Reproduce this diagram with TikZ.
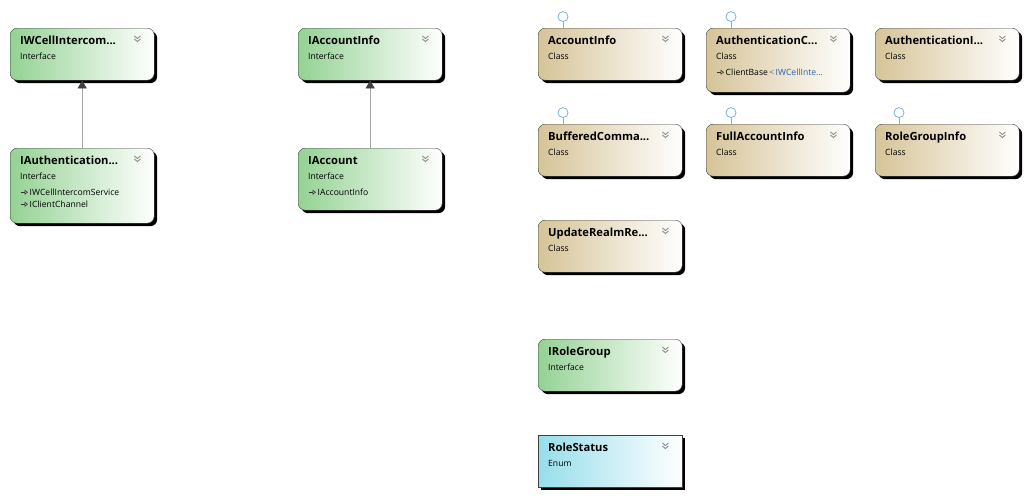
\documentclass[tikz,border=0pt]{standalone}
\usepackage{fontspec}
\setmainfont{Open Sans}
\usetikzlibrary{arrows.meta,positioning,shadows}
\definecolor{ifacegreen}{RGB}{148,210,148}
\definecolor{classtan}{RGB}{214,196,152}
\definecolor{enumcyan}{RGB}{150,222,234}
\definecolor{lollblue}{RGB}{125,175,228}
\definecolor{linkblue}{RGB}{45,95,175}
\newcommand\inh{\tikz[baseline=-0.6ex]\draw[black!80,line width=0.6pt,-{Triangle[open,length=3.5pt,width=5pt]}] (0pt,0pt) -- (7.5pt,0pt);\,}
\tikzset{
  box/.style={draw=black!75, minimum width=144pt, inner sep=0pt, anchor=north west,
    right color=white, drop shadow={shadow xshift=3pt,shadow yshift=-3pt,fill=black,opacity=1}},
  iface/.style={box, rounded corners=7pt, left color=ifacegreen, right color=white},
  cls/.style={box, rounded corners=7pt, left color=classtan, right color=white},
  enm/.style={box, left color=enumcyan, right color=white},
  ttl/.style={anchor=base west, inner sep=0pt, font=\bfseries\fontsize{11.2}{13}\selectfont},
  kind/.style={anchor=base west, inner sep=0pt, font=\fontsize{8.6}{10}\selectfont},
  lolli/.style={circle, draw=lollblue, fill=white, line width=0.8pt, minimum size=10pt, inner sep=0pt},
  stem/.style={draw=lollblue, line width=0.8pt},
  inherit/.style={draw=black!35, line width=0.8pt, -{Triangle[length=8pt,width=9pt,color=black!75]}},
  chev/.pic={\draw[black!45, line width=0.9pt] (-3,0) -- (0,2.5) -- (3,0) (-3,3) -- (0,5.5) -- (3,3);}
}
\begin{document}
\begin{tikzpicture}[x=1pt,y=-1pt]
\useasboundingbox[fill=white] (0,0) rectangle (1027,498);
% interfaces, left
\node[iface, minimum height=52pt] (iwcell) at (10,28) {};
\node[ttl] (iwcellT) at ([shift={(10,16)}]iwcell.north west) {IWCellIntercom...};
\node[kind] (iwcellK) at ([shift={(10,31)}]iwcell.north west) {Interface};
\pic at ([shift={(-17,8)}]iwcell.north east) {chev};
\node[iface, minimum height=75pt] (iauth) at (10,148) {};
\node[ttl] (iauthT) at ([shift={(10,16)}]iauth.north west) {IAuthentication...};
\node[kind] (iauthK) at ([shift={(10,31)}]iauth.north west) {Interface};
\node[kind] (iauthM1) at ([shift={(10,47)}]iauth.north west) {\inh IWCellIntercomService};
\node[kind] (iauthM2) at ([shift={(10,59)}]iauth.north west) {\inh IClientChannel};
\pic at ([shift={(-17,8)}]iauth.north east) {chev};
\draw[inherit] (iauth.north) -- (iwcell.south);
% interfaces, middle
\node[iface, minimum height=52pt] (iaccinfo) at (298,28) {};
\node[ttl] (iaccinfoT) at ([shift={(10,16)}]iaccinfo.north west) {IAccountInfo};
\node[kind] (iaccinfoK) at ([shift={(10,31)}]iaccinfo.north west) {Interface};
\pic at ([shift={(-17,8)}]iaccinfo.north east) {chev};
\node[iface, minimum height=62pt] (iaccount) at (298,148) {};
\node[ttl] (iaccountT) at ([shift={(10,16)}]iaccount.north west) {IAccount};
\node[kind] (iaccountK) at ([shift={(10,31)}]iaccount.north west) {Interface};
\node[kind] (iaccountM) at ([shift={(10,47)}]iaccount.north west) {\inh IAccountInfo};
\pic at ([shift={(-17,8)}]iaccount.north east) {chev};
\draw[inherit] (iaccount.north) -- (iaccinfo.south);
% classes, row 1
\node[cls, minimum height=52pt] (accinfo) at (538,28) {};
\node[ttl] (accinfoT) at ([shift={(10,16)}]accinfo.north west) {AccountInfo};
\node[kind] (accinfoK) at ([shift={(10,31)}]accinfo.north west) {Class};
\pic at ([shift={(-17,8)}]accinfo.north east) {chev};
\node[cls, minimum height=64pt] (authc) at (706,28) {};
\node[ttl] (authcT) at ([shift={(10,16)}]authc.north west) {AuthenticationC...};
\node[kind] (authcK) at ([shift={(10,31)}]authc.north west) {Class};
\node[kind] (authcM) at ([shift={(10,47)}]authc.north west) {\inh ClientBase\,{\color{black!60}<}\,{\color{linkblue}IWCellInte...}};
\pic at ([shift={(-17,8)}]authc.north east) {chev};
\node[cls, minimum height=52pt] (authi) at (875,28) {};
\node[ttl] (authiT) at ([shift={(10,16)}]authi.north west) {AuthenticationI...};
\node[kind] (authiK) at ([shift={(10,31)}]authi.north west) {Class};
\pic at ([shift={(-17,8)}]authi.north east) {chev};
% classes, row 2
\node[cls, minimum height=52pt] (buffered) at (538,124) {};
\node[ttl] (bufferedT) at ([shift={(10,16)}]buffered.north west) {BufferedComma...};
\node[kind] (bufferedK) at ([shift={(10,31)}]buffered.north west) {Class};
\pic at ([shift={(-17,8)}]buffered.north east) {chev};
\node[cls, minimum height=52pt] (fullacc) at (706,124) {};
\node[ttl] (fullaccT) at ([shift={(10,16)}]fullacc.north west) {FullAccountInfo};
\node[kind] (fullaccK) at ([shift={(10,31)}]fullacc.north west) {Class};
\pic at ([shift={(-17,8)}]fullacc.north east) {chev};
\node[cls, minimum height=52pt] (rolegi) at (875,124) {};
\node[ttl] (rolegiT) at ([shift={(10,16)}]rolegi.north west) {RoleGroupInfo};
\node[kind] (rolegiK) at ([shift={(10,31)}]rolegi.north west) {Class};
\pic at ([shift={(-17,8)}]rolegi.north east) {chev};
% class, row 3
\node[cls, minimum height=52pt] (update) at (538,220) {};
\node[ttl] (updateT) at ([shift={(10,16)}]update.north west) {UpdateRealmRe...};
\node[kind] (updateK) at ([shift={(10,31)}]update.north west) {Class};
\pic at ([shift={(-17,8)}]update.north east) {chev};
% interface and enum, bottom
\node[iface, minimum height=52pt] (irolegroup) at (538,339) {};
\node[ttl] (irolegroupT) at ([shift={(10,16)}]irolegroup.north west) {IRoleGroup};
\node[kind] (irolegroupK) at ([shift={(10,31)}]irolegroup.north west) {Interface};
\pic at ([shift={(-17,8)}]irolegroup.north east) {chev};
\node[enm, minimum height=52pt] (rolestatus) at (538,435) {};
\node[ttl] (rolestatusT) at ([shift={(10,16)}]rolestatus.north west) {RoleStatus};
\node[kind] (rolestatusK) at ([shift={(10,31)}]rolestatus.north west) {Enum};
\pic at ([shift={(-17,8)}]rolestatus.north east) {chev};
% lollipops
\coordinate (l1) at ([xshift=25]accinfo.north west);
\node[lolli, above=6pt of l1] (l1c) {};
\draw[stem] (l1c) -- (l1);
\coordinate (l2) at ([xshift=25]authc.north west);
\node[lolli, above=6pt of l2] (l2c) {};
\draw[stem] (l2c) -- (l2);
\coordinate (l3) at ([xshift=25]buffered.north west);
\node[lolli, above=6pt of l3] (l3c) {};
\draw[stem] (l3c) -- (l3);
\coordinate (l4) at ([xshift=25]fullacc.north west);
\node[lolli, above=6pt of l4] (l4c) {};
\draw[stem] (l4c) -- (l4);
\coordinate (l5) at ([xshift=24]rolegi.north west);
\node[lolli, above=6pt of l5] (l5c) {};
\draw[stem] (l5c) -- (l5);
\end{tikzpicture}
\end{document}
